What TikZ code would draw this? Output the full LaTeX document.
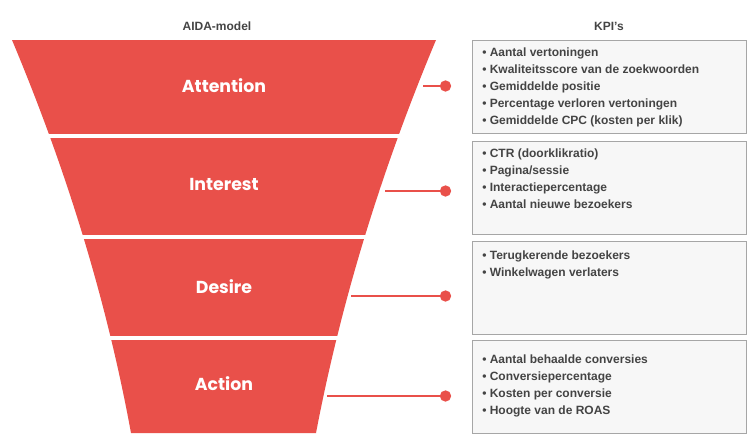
\documentclass[tikz,border=0pt]{standalone}
\usepackage{fontspec}
\setmainfont{Liberation Sans}
\newfontfamily\bandfont{Poppins}
\definecolor{funnelred}{HTML}{E9504A}
\definecolor{kpigray}{HTML}{444444}
\definecolor{kpiborder}{HTML}{A6A6A6}
\definecolor{kpifill}{HTML}{F7F7F7}
\tikzset{
  bandlabel/.style={text=white, font=\bandfont\bfseries\fontsize{13pt}{15pt}\selectfont},
  heading/.style={text=kpigray, font=\bfseries\fontsize{9pt}{11pt}\selectfont},
  kpibox/.style={draw=kpiborder, fill=kpifill, line width=0.75pt, minimum width=205.5pt, minimum height=69.75pt, inner sep=0, anchor=north west},
  kpiitem/.style={text=kpigray, font=\bfseries\fontsize{9pt}{11pt}\selectfont, anchor=base west, inner sep=0},
  kpidot/.style={circle, fill=funnelred, minimum size=8.5pt, inner sep=0},
  link/.style={draw=funnelred, line width=1.5pt},
}
\newcommand{\kpiBox}[4]{%
  \node[kpibox] (#1) at (472,#2) {};
  \foreach \kpitext [count=\i from 0] in {#4}
    \node[kpiitem] (#1-\i) at (482,#3+17*\i) {\textbullet\ \kpitext};
}

\begin{document}
\begin{tikzpicture}[x=0.75pt, y=-0.75pt]
  \useasboundingbox (0,0) rectangle (754,446);
  % Funnel
  \fill[funnelred] (12,40) .. controls (67,171) and (107,302) .. (131,433)
    -- (316,433) .. controls (341,302) and (381,171) .. (436,40) -- cycle;
  \foreach \gapy in {136,237,337.5}
    \draw[white, line width=3pt] (0,\gapy) -- (448,\gapy);
  % Headings
  \node[heading] (aida) at (217,26) {AIDA-model};
  \node[heading] (kpis) at (609,26) {KPI’s};
  % Bands
  \node[bandlabel] (attention) at (224,86) {Attention};
  \node[bandlabel] (interest) at (224,184) {Interest};
  \node[bandlabel] (desire) at (224,287) {Desire};
  \node[bandlabel] (action) at (224,384) {Action};
  % KPI boxes
  \kpiBox{boxA}{40}{56}{Aantal vertoningen, Kwaliteitsscore van de zoekwoorden, Gemiddelde positie, Percentage verloren vertoningen, Gemiddelde CPC (kosten per klik)}
  \kpiBox{boxI}{140.5}{157}{CTR (doorklikratio), {Pagina/sessie}, Interactiepercentage, Aantal nieuwe bezoekers}
  \kpiBox{boxD}{240.5}{259}{Terugkerende bezoekers, Winkelwagen verlaters}
  \kpiBox{boxC}{340}{363}{Aantal behaalde conversies, Conversiepercentage, Kosten per conversie, Hoogte van de ROAS}
  % Connectors
  \coordinate (attentionEnd) at (423,86);
  \coordinate (interestEnd) at (385,191);
  \coordinate (desireEnd) at (351,296);
  \coordinate (actionEnd) at (327,396);
  \node[kpidot] (attentionDot) at (445.5,86) {};
  \node[kpidot] (interestDot) at (445.5,191) {};
  \node[kpidot] (desireDot) at (445.5,296) {};
  \node[kpidot] (actionDot) at (445.5,396) {};
  \draw[link] (attentionEnd) -- (attentionDot);
  \draw[link] (interestEnd) -- (interestDot);
  \draw[link] (desireEnd) -- (desireDot);
  \draw[link] (actionEnd) -- (actionDot);
\end{tikzpicture}
\end{document}
